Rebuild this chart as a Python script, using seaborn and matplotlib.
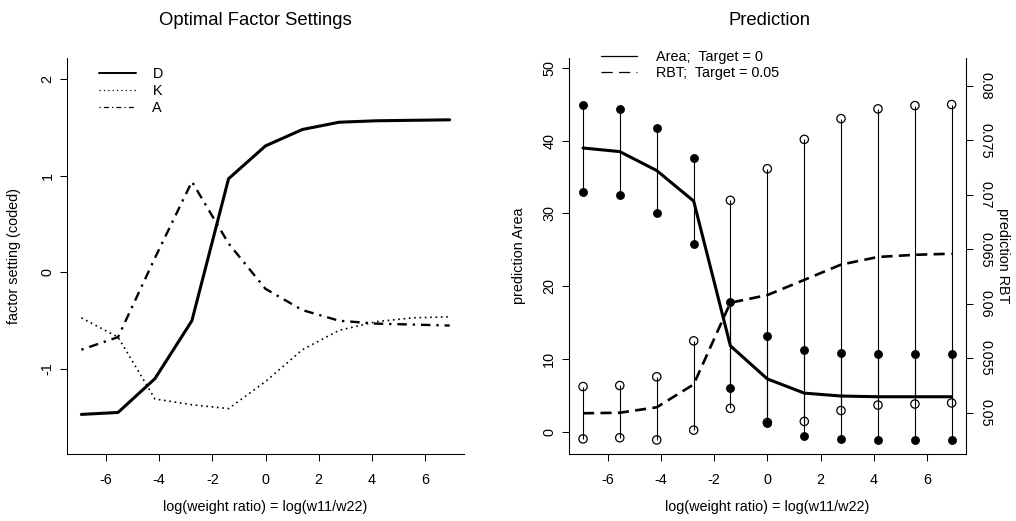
import numpy as np
import pandas as pd
import matplotlib
matplotlib.use("Agg")
import matplotlib.pyplot as plt
from matplotlib.lines import Line2D
import seaborn as sns

# ---------------- data ----------------
log_ratio = [-6.93, -5.55, -4.16, -2.77, -1.39, 0.0, 1.39, 2.77, 4.16, 5.55, 6.93]

factor_D = [-1.47, -1.45, -1.10, -0.50, 0.97, 1.31, 1.48, 1.555, 1.57, 1.575, 1.58]
factor_K = [-0.47, -0.67, -1.31, -1.37, -1.41, -1.13, -0.80, -0.60, -0.51, -0.47, -0.46]
factor_A = [-0.80, -0.67, 0.15, 0.94, 0.30, -0.17, -0.39, -0.50, -0.53, -0.54, -0.55]

area_pred = [39.0, 38.5, 35.9, 31.7, 11.8, 7.25, 5.3, 4.9, 4.8, 4.8, 4.8]
area_hi = [44.9, 44.4, 41.8, 37.6, 17.8, 13.1, 11.2, 10.8, 10.7, 10.7, 10.7]
area_lo = [33.0, 32.6, 30.0, 25.8, 6.0, 1.2, -0.55, -1.05, -1.1, -1.1, -1.1]

rbt_pred = [0.04995, 0.0500, 0.0505, 0.0526, 0.0601, 0.0608, 0.0622, 0.0636, 0.0643, 0.0645, 0.0646]
rbt_hi = [0.0524, 0.0525, 0.0533, 0.0566, 0.0695, 0.0724, 0.0751, 0.0770, 0.0779, 0.0782, 0.0783]
rbt_lo = [0.0476, 0.0477, 0.0475, 0.0484, 0.0504, 0.0491, 0.0492, 0.0502, 0.0507, 0.0508, 0.0509]

x_ticks = [-6, -4, -2, 0, 2, 4, 6]
left_y_ticks = [-1, 0, 1, 2]
area_ticks = [0, 10, 20, 30, 40, 50]
rbt_ticks = [0.05, 0.055, 0.06, 0.065, 0.07, 0.075, 0.08]
rbt_tick_labels = ["0.05", "0.055", "0.06", "0.065", "0.07", "0.075", "0.08"]

titles = ["Optimal Factor Settings", "Prediction"]
xlabel = "log(weight ratio) = log(w11/w22)"

# ---------------- style ----------------
sns.set_theme(style="ticks")
plt.rcParams["font.family"] = ["Liberation Sans", "DejaVu Sans"]
BASE = 10.4
plt.rcParams.update({
    "axes.linewidth": 0.75,
    "xtick.major.width": 0.75,
    "ytick.major.width": 0.75,
    "xtick.major.size": 5,
    "ytick.major.size": 5,
    "xtick.direction": "out",
    "ytick.direction": "out",
    "xtick.labelsize": BASE,
    "ytick.labelsize": BASE,
    "axes.edgecolor": "black",
    "xtick.color": "black",
    "ytick.color": "black",
    "text.color": "black",
})

W, H = 1016, 521
fig = plt.figure(figsize=(W / 100, H / 100), dpi=100)
fig.patch.set_facecolor("white")

def fx(px):
    return px / W

def fy(py):
    return 1 - py / H

axL = fig.add_axes([fx(67), fy(454), fx(464) - fx(67), fy(58) - fy(454)])
axR = fig.add_axes([fx(568.7), fy(454), fx(966) - fx(568.7), fy(58) - fy(454)])

XLIM = (-7.47, 7.47)

# ---------------- left panel ----------------
dot_style = (0, (1, 2.2))
dashdot_style = (0, (1, 2.5, 4, 2.5))
sns.lineplot(x=log_ratio, y=factor_D, ax=axL, color="black", lw=2.2,
             sort=False, errorbar=None)
sns.lineplot(x=log_ratio, y=factor_K, ax=axL, color="black", lw=1.2,
             linestyle=dot_style, sort=False, errorbar=None)
sns.lineplot(x=log_ratio, y=factor_A, ax=axL, color="black", lw=1.7,
             linestyle=dashdot_style, sort=False, errorbar=None)

axL.set_xlim(*XLIM)
axL.set_ylim(-1.88, 2.22)
axL.set_xticks(x_ticks)
axL.set_xticklabels([f"{t:d}" for t in x_ticks])
axL.set_yticks(left_y_ticks)
axL.set_yticklabels([f"{t:d}" for t in left_y_ticks], rotation=90, va="center")
axL.tick_params(axis="x", pad=9)
axL.tick_params(axis="y", pad=4)
axL.spines["top"].set_visible(False)
axL.spines["right"].set_visible(False)
axL.set_xlabel("")
axL.set_ylabel("")

hL = [Line2D([], [], color="black", lw=1.4),
      Line2D([], [], color="black", lw=0.9, linestyle=(0, (1, 2.5))),
      Line2D([], [], color="black", lw=0.9, linestyle=(0, (1, 2.5, 4, 2.5)))]
axL.legend(hL, ["D", "K", "A"], loc="upper left",
           bbox_to_anchor=((99 - 67) / 397, (454 - 67) / 396),
           frameon=False, fontsize=BASE, handlelength=2.55, handletextpad=1.15,
           labelspacing=0.22, borderaxespad=0, borderpad=0)

# ---------------- right panel ----------------
axR2 = axR.twinx()

axR.vlines(log_ratio, area_lo, area_hi, color="black", lw=0.8, zorder=2)
axR2.vlines(log_ratio, rbt_lo, rbt_hi, color="black", lw=0.8, zorder=2)

sns.lineplot(x=log_ratio, y=area_pred, ax=axR, color="black", lw=2.2,
             sort=False, errorbar=None, zorder=3)
sns.lineplot(x=log_ratio, y=rbt_pred, ax=axR2, color="black", lw=1.9,
             linestyle=(0, (4.2, 2.4)), sort=False, errorbar=None, zorder=3)

sns.scatterplot(x=log_ratio + log_ratio, y=area_hi + area_lo, ax=axR,
                color="black", edgecolor="black", s=34, linewidth=0.5, zorder=4)
sns.scatterplot(x=log_ratio + log_ratio, y=rbt_hi + rbt_lo, ax=axR2,
                color="black", facecolors="none", edgecolor="black", s=36,
                linewidth=0.9, zorder=4)

axR.set_xlim(*XLIM)
axR.set_ylim(-3.07, 51.37)
axR2.set_ylim(0.04621, 0.08257)
axR.set_xticks(x_ticks)
axR.set_xticklabels([f"{t:d}" for t in x_ticks])
axR.set_yticks(area_ticks)
axR.set_yticklabels([f"{t:d}" for t in area_ticks], rotation=90, va="center")
axR2.set_yticks(rbt_ticks)
axR2.set_yticklabels(rbt_tick_labels, rotation=270, va="center")
axR.tick_params(axis="x", pad=9)
axR.tick_params(axis="y", pad=4)
axR2.tick_params(axis="y", pad=4)
for a in (axR, axR2):
    a.spines["top"].set_visible(False)
    a.set_xlabel("")
    a.set_ylabel("")

hR = [Line2D([], [], color="black", lw=0.9),
      Line2D([], [], color="black", lw=0.9, linestyle=(0, (9, 5)))]
axR.legend(hR, ["Area;  Target = 0", "RBT;  Target = 0.05"], loc="upper left",
           bbox_to_anchor=((601 - 568.7) / 397.3, (454 - 50) / 396),
           frameon=False, fontsize=BASE, handlelength=2.5, handletextpad=1.3,
           labelspacing=0.15, borderaxespad=0, borderpad=0)

# ---------------- labels ----------------
fig.text(fx(255), fy(25), titles[0], ha="center", va="baseline", fontsize=13.3)
fig.text(fx(770), fy(25), titles[1], ha="center", va="baseline", fontsize=13.3)
fig.text(fx(265.5), fy(511), xlabel, ha="center", va="baseline", fontsize=BASE)
fig.text(fx(767.3), fy(511), xlabel, ha="center", va="baseline", fontsize=BASE)
fig.text(fx(14), fy(256), "factor setting (coded)", ha="center", va="center",
         rotation=90, fontsize=BASE)
fig.text(fx(519), fy(256), "prediction Area", ha="center", va="center",
         rotation=90, fontsize=BASE)
fig.text(fx(1003), fy(256), "prediction RBT", ha="center", va="center",
         rotation=270, fontsize=BASE)

fig.savefig("out.png", dpi=100, facecolor="white")
